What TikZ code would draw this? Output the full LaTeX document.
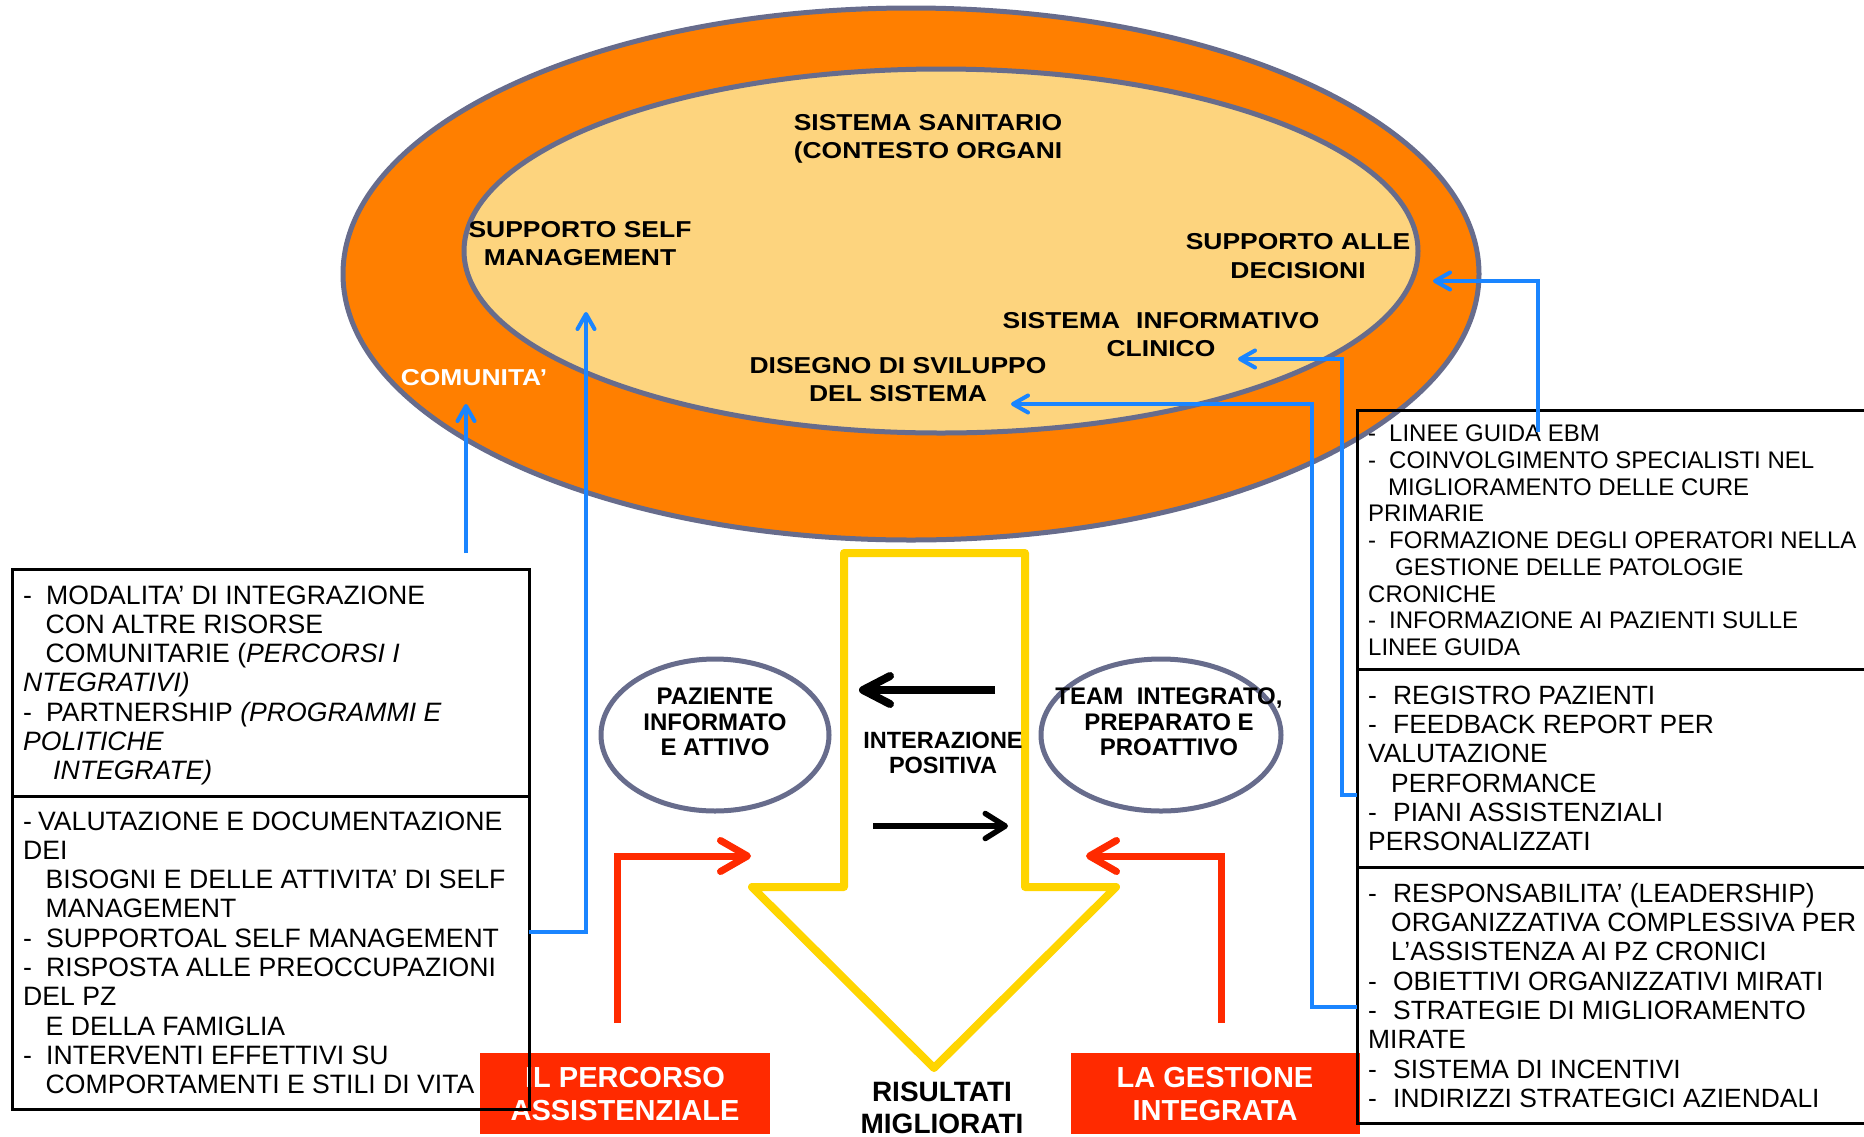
\documentclass[tikz,border=0pt]{standalone}
\usepackage{fontspec}
\setmainfont{Liberation Sans}
\newfontfamily\ellf[FakeStretch=1.15]{Liberation Sans}
\usetikzlibrary{shapes.geometric,arrows.meta}
\definecolor{orng}{HTML}{FF7F00}
\definecolor{peach}{HTML}{FDD47E}
\definecolor{slate}{HTML}{676C8C}
\definecolor{yel}{HTML}{FFD500}
\definecolor{redb}{HTML}{FF2A00}
\definecolor{blu}{HTML}{1A85FF}
\newcommand{\dsh}[1]{\makebox[#1][l]{-}}
\begin{document}
\begin{tikzpicture}[x=1pt,y=-1pt,
  ellshape/.style={ellipse, draw=slate, line width=5pt, inner sep=0pt, outer sep=0pt},
  boxshape/.style={rectangle, draw=black, line width=3pt, inner sep=0pt, outer sep=0pt},
  redbox/.style={rectangle, fill=redb, inner sep=0pt, outer sep=0pt},
  elltxt/.style={font=\ellf\bfseries\fontsize{23}{28.5}\selectfont, align=center, anchor=base, inner sep=0pt},
  boldtxt/.style={font=\bfseries\fontsize{24}{25.5}\selectfont, align=center, anchor=base, inner sep=0pt},
  bigbold/.style={font=\bfseries\fontsize{29}{33}\selectfont, align=center, anchor=base, inner sep=0pt},
  boxtxt/.style={font=\fontsize{26.6}{29.3}\selectfont, align=left, anchor=base west, inner sep=0pt},
  boxtxtr/.style={font=\fontsize{26.4}{29.3}\selectfont, align=left, anchor=base west, inner sep=0pt},
  boxtxtsmall/.style={font=\fontsize{24}{26.75}\selectfont, align=left, anchor=base west, inner sep=0pt},
  bluearr/.style={draw=blu, line width=4pt, -{Straight Barb[length=15pt,width=17pt,round]}},
  redarr/.style={draw=redb, line width=7pt, -{Straight Barb[length=27pt,width=31pt,round]}},
  blkarrA/.style={draw=black, line width=8pt, -{Straight Barb[length=27pt,width=28pt,round]}},
  blkarrB/.style={draw=black, line width=5.5pt, -{Straight Barb[length=20pt,width=25pt,round]}}
]
\useasboundingbox (0,0) rectangle (1864,1136);
\fill[white] (0,0) rectangle (1864,1136);

% big ellipses
\node[ellshape, fill=orng, minimum width=1136pt, minimum height=532pt] (outer) at (911,274) {};
\node[ellshape, fill=peach, minimum width=954pt, minimum height=364pt] (inner) at (941,251) {};

% ellipse texts (anchor = baseline of last line)
\node[elltxt] (sanit) at (928,158.5) {SISTEMA SANITARIO\\(CONTESTO ORGANI};
\node[elltxt] (self) at (580,265.5) {SUPPORTO SELF\\MANAGEMENT};
\node[elltxt] (decis) at (1298,278) {SUPPORTO ALLE\\DECISIONI};
\node[elltxt] (clin) at (1161,356.5) {SISTEMA\hspace{16pt}INFORMATIVO\\CLINICO};
\node[elltxt] (diseg) at (898,401.5) {DISEGNO DI SVILUPPO\\DEL SISTEMA};
\node[elltxt, text=white] (comun) at (474,385) {COMUNITA’};

% red boxes
\node[redbox, minimum width=290pt, minimum height=81pt] (rp) at (625,1093.5) {};
\node[redbox, minimum width=289pt, minimum height=81pt] (rg) at (1215.5,1093.5) {};
\node[bigbold, text=white] (rpT) at (625,1120) {IL PERCORSO\\ASSISTENZIALE};
\node[bigbold, text=white] (rgT) at (1215,1120) {LA GESTIONE\\INTEGRATA};

% black boxes
\node[boxshape, minimum width=517pt, minimum height=227pt] (lt) at (270.5,682.5) {};
\node[boxshape, minimum width=517pt, minimum height=313pt] (lb) at (270.5,952.5) {};
\node[boxshape, minimum width=513pt, minimum height=259pt] (rt) at (1613.5,539.5) {};
\node[boxshape, minimum width=513pt, minimum height=198pt] (rm) at (1613.5,768) {};
\node[boxshape, minimum width=513pt, minimum height=256pt] (rb) at (1613.5,995) {};

\node[boxtxt] (ltT) at (23,779.8) {\dsh{23pt}MODALITA’ DI INTEGRAZIONE\\
\hspace*{22.5pt}CON ALTRE RISORSE\\
\hspace*{22.5pt}COMUNITARIE (\textit{PERCORSI I}\\
\textit{NTEGRATIVI)}\\
\dsh{23pt}PARTNERSHIP \textit{(PROGRAMMI E}\\
\textit{POLITICHE}\\
\hspace*{30pt}\textit{INTEGRATE)}};

\node[boxtxt] (lbT) at (23,1093.7) {\dsh{15pt}VALUTAZIONE E DOCUMENTAZIONE\\
DEI\\
\hspace*{22.5pt}BISOGNI E DELLE ATTIVITA’ DI SELF\\
\hspace*{22.5pt}MANAGEMENT\\
\dsh{23pt}SUPPORTOAL SELF MANAGEMENT\\
\dsh{23pt}RISPOSTA ALLE PREOCCUPAZIONI\\
DEL PZ\\
\hspace*{22.5pt}E DELLA FAMIGLIA\\
\dsh{23pt}INTERVENTI EFFETTIVI SU\\
\hspace*{22.5pt}COMPORTAMENTI E STILI DI VITA};

\node[boxtxtsmall] (rtT) at (1368,655.6) {\dsh{21pt}LINEE GUIDA EBM\\
\dsh{21pt}COINVOLGIMENTO SPECIALISTI NEL\\
\hspace*{20pt}MIGLIORAMENTO DELLE CURE\\
PRIMARIE\\
\dsh{21pt}FORMAZIONE DEGLI OPERATORI NELLA\\
\hspace*{27pt}GESTIONE DELLE PATOLOGIE\\
CRONICHE\\
\dsh{21pt}INFORMAZIONE AI PAZIENTI SULLE\\
LINEE GUIDA};

\node[boxtxtr] (rmT) at (1368,850.8) {\dsh{25pt}REGISTRO PAZIENTI\\
\dsh{25pt}FEEDBACK REPORT PER\\
VALUTAZIONE\\
\hspace*{23pt}PERFORMANCE\\
\dsh{25pt}PIANI ASSISTENZIALI\\
PERSONALIZZATI};

\node[boxtxtr] (rbT) at (1368,1107.4) {\dsh{25pt}RESPONSABILITA’ (LEADERSHIP)\\
\hspace*{23pt}ORGANIZZATIVA COMPLESSIVA PER\\
\hspace*{23pt}L’ASSISTENZA AI PZ CRONICI\\
\dsh{25pt}OBIETTIVI ORGANIZZATIVI MIRATI\\
\dsh{25pt}STRATEGIE DI MIGLIORAMENTO\\
MIRATE\\
\dsh{25pt}SISTEMA DI INCENTIVI\\
\dsh{25pt}INDIRIZZI STRATEGICI AZIENDALI};

% yellow arrow
\draw[yel, line width=8pt, line join=round] (844,553) -- (1025,553) -- (1025,887) -- (1116,887) -- (934,1068) -- (752,887) -- (844,887) -- cycle;

% small ellipses
\node[ellshape, minimum width=228pt, minimum height=152pt] (paz) at (715,735) {};
\node[ellshape, minimum width=240pt, minimum height=152pt] (team) at (1161,735) {};
\node[boldtxt] (pazT) at (715,755.6) {PAZIENTE\\INFORMATO\\E ATTIVO};
\node[boldtxt] (teamT) at (1169,755.6) {TEAM\ \ INTEGRATO,\\PREPARATO E\\PROATTIVO};
\node[boldtxt, font=\bfseries\fontsize{23.5}{25}\selectfont] (inter) at (943,773.4) {INTERAZIONE\\POSITIVA};
\node[bigbold, font=\bfseries\fontsize{28}{32}\selectfont] (ris) at (942,1133) {RISULTATI\\MIGLIORATI};

% coordinates for connectors
\coordinate (cComBot) at (466,553);
\coordinate (cComTip) at (466,404);
\coordinate (cSelfStart) at (529,932);
\coordinate (cSelfTip) at (586,312);
\coordinate (cDecStart) at (1538,432);
\coordinate (cDecTip) at (1433,281);
\coordinate (cCliStart) at (1357,795);
\coordinate (cCliBend) at (1342,795);
\coordinate (cCliTip) at (1238,359);
\coordinate (cDisStart) at (1357,1007);
\coordinate (cDisBend) at (1312,1007);
\coordinate (cDisTip) at (1011,404);
\coordinate (cRL0) at (617,1023);
\coordinate (cRL1) at (751,856);
\coordinate (cRR0) at (1221,1023);
\coordinate (cRR1) at (1086,856);
\coordinate (cBA0) at (995,690);
\coordinate (cBA1) at (859,690);
\coordinate (cBB0) at (873,826);
\coordinate (cBB1) at (1008,826);

% blue connectors
\draw[bluearr] (cComBot) -- (cComTip);
\draw[bluearr] (cSelfStart) -| (cSelfTip);
\draw[bluearr] (cDecStart) |- (cDecTip);
\draw[bluearr] (cCliStart) -- (cCliBend) |- (cCliTip);
\draw[bluearr] (cDisStart) -- (cDisBend) |- (cDisTip);

% red connectors
\draw[redarr] (cRL0) |- (cRL1);
\draw[redarr] (cRR0) |- (cRR1);

% black arrows
\draw[blkarrA] (cBA0) -- (cBA1);
\draw[blkarrB] (cBB0) -- (cBB1);
\end{tikzpicture}
\end{document}
